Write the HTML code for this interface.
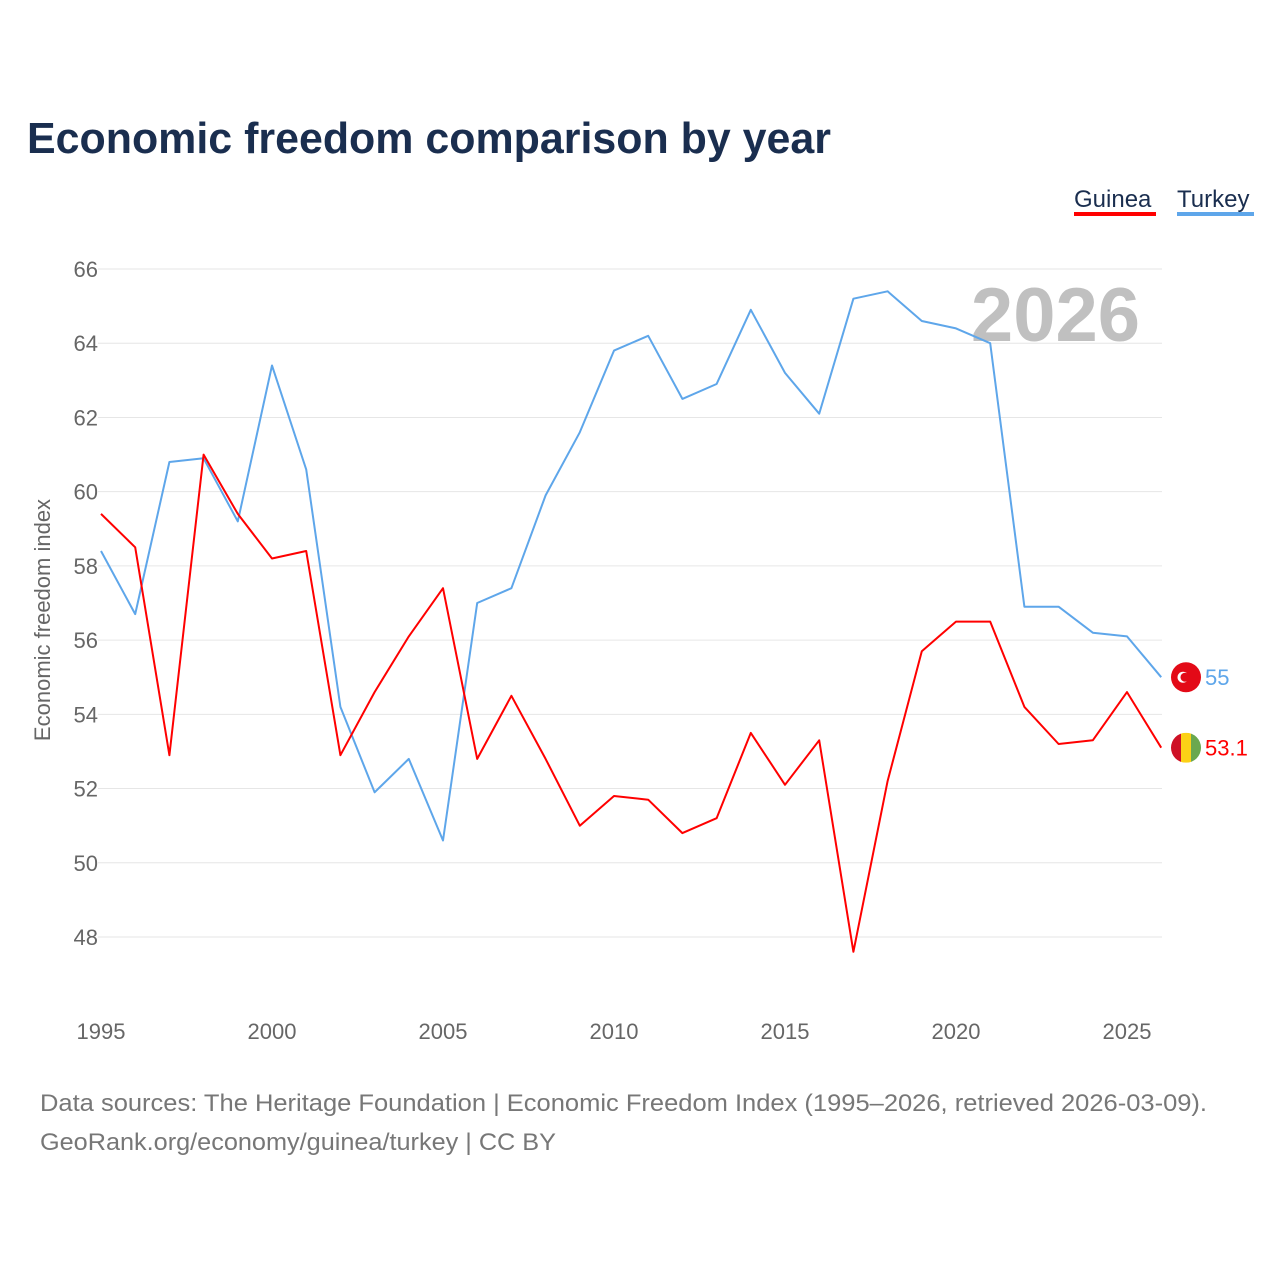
<!DOCTYPE html>
<html><head><meta charset="utf-8">
<style>
body{margin:0;background:#fff;width:1280px;height:1280px;overflow:hidden;font-family:"Liberation Sans",sans-serif;}
svg text{font-family:"Liberation Sans",sans-serif;}
</style></head>
<body>
<svg id="chart" width="1280" height="1280" xmlns="http://www.w3.org/2000/svg">
<text x="27" y="153" font-size="44" font-weight="bold" fill="#1a2e4f" textLength="804" lengthAdjust="spacingAndGlyphs">Economic freedom comparison by year</text>
<g><text x="1074" y="207" font-size="24" fill="#1a2e4f">Guinea</text><rect x="1074" y="212" width="82" height="4" fill="#ff0000"/></g>
<g><text x="1177" y="207" font-size="24" fill="#1a2e4f">Turkey</text><rect x="1177" y="212" width="77" height="4" fill="#5ea6ea"/></g>
<g id="grid"></g>
<g id="yticks"></g>
<g id="xticks"></g>
<text x="1140" y="341" font-size="76" font-weight="bold" fill="#c0c0c0" text-anchor="end">2026</text>
<text transform="translate(50,620) rotate(-90)" font-size="22" fill="#666" text-anchor="middle">Economic freedom index</text>
<g id="series"></g>
<text x="40" y="1111" font-size="24" fill="#777" textLength="1167" lengthAdjust="spacingAndGlyphs">Data sources: The Heritage Foundation | Economic Freedom Index (1995–2026, retrieved 2026-03-09).</text>
<text x="40" y="1150" font-size="24" fill="#777" textLength="516" lengthAdjust="spacingAndGlyphs">GeoRank.org/economy/guinea/turkey | CC BY</text>
</svg>
<script>
const years=[1995,1996,1997,1998,1999,2000,2001,2002,2003,2004,2005,2006,2007,2008,2009,2010,2011,2012,2013,2014,2015,2016,2017,2018,2019,2020,2021,2022,2023,2024,2025,2026];
const turkey=[58.4,56.7,60.8,60.9,59.2,63.4,60.6,54.2,51.9,52.8,50.6,57.0,57.4,59.9,61.6,63.8,64.2,62.5,62.9,64.9,63.2,62.1,65.2,65.4,64.6,64.4,64.0,56.9,56.9,56.2,56.1,55.0];
const guinea=[59.4,58.5,52.9,61.0,59.4,58.2,58.4,52.9,54.6,56.1,57.4,52.8,54.5,52.8,51.0,51.8,51.7,50.8,51.2,53.5,52.1,53.3,47.6,52.2,55.7,56.5,56.5,54.2,53.2,53.3,54.6,53.1];
const yTicks=[48,50,52,54,56,58,60,62,64,66];
const xTicks=[1995,2000,2005,2010,2015,2020,2025];
const NS="http://www.w3.org/2000/svg";
const xS=y=>101+(y-1995)*(1127-101)/30;
const yS=v=>937-(v-48)*(937-269)/18;
function mk(t,a,p){const e=document.createElementNS(NS,t);for(const k in a)e.setAttribute(k,a[k]);p.appendChild(e);return e;}
const grid=document.getElementById('grid'),yt=document.getElementById('yticks'),xt=document.getElementById('xticks'),ser=document.getElementById('series');
yTicks.forEach(v=>{
 const l=mk('line',{x1:98,x2:1162,y1:yS(v),y2:yS(v),stroke:'#e6e6e6','stroke-width':1},grid);
 
 
 const t=mk('text',{x:98,y:yS(v)+8,'font-size':22,fill:'#666','text-anchor':'end'},yt);
 t.textContent=v;
 
 
});
xTicks.forEach(v=>{
 const t=mk('text',{x:xS(v),y:1039,'font-size':22,fill:'#666','text-anchor':'middle'},xt);
 t.textContent=v;
 
 
});
function line(vals,color,name){
 const d=vals.map((v,i)=>(i?'L':'M')+xS(years[i]).toFixed(1)+','+yS(v).toFixed(1)).join('');
 const p=mk('path',{d:d,fill:'none',stroke:color,'stroke-width':2,'stroke-linejoin':'round'},ser);
 
 
}
line(turkey,'#5ea6ea','line-turkey');
line(guinea,'#ff0000','line-guinea');
const lt=turkey[turkey.length-1],lg=guinea[guinea.length-1];
const ft=mk('circle',{cx:1186,cy:yS(lt),r:15,fill:'#e30a17'},ser);


mk('circle',{cx:1183,cy:yS(lt),r:5.5,fill:'#fff'},ser);
mk('circle',{cx:1185,cy:yS(lt),r:4.5,fill:'#e30a17'},ser);
const tt=mk('text',{x:1205,y:yS(lt)+8,'font-size':22,fill:'#5ea6ea'},ser);
tt.textContent=lt;


const gy=yS(lg);
const fg=mk('g',{},ser);


const cpath=mk('clipPath',{id:'gc'},fg);
mk('circle',{cx:1186,cy:gy,r:15},cpath);
mk('rect',{x:1171,y:gy-15,width:10,height:30,fill:'#ce1126','clip-path':'url(#gc)'},fg);
mk('rect',{x:1181,y:gy-15,width:10,height:30,fill:'#fcd116','clip-path':'url(#gc)'},fg);
mk('rect',{x:1191,y:gy-15,width:10,height:30,fill:'#6aa84f','clip-path':'url(#gc)'},fg);
const tg=mk('text',{x:1205,y:gy+8,'font-size':22,fill:'#ff0000'},ser);
tg.textContent=lg;


</script>
</body></html>
